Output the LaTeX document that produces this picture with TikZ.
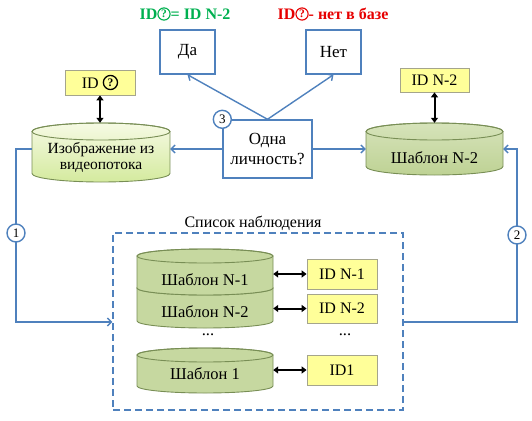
\documentclass[tikz,border=0pt]{standalone}
\usepackage{fontspec}
\setmainfont{Liberation Serif}
\usetikzlibrary{arrows.meta}
\definecolor{lblue}{RGB}{79,129,189}
\definecolor{cborder}{RGB}{120,142,85}
\definecolor{gtop}{RGB}{214,227,186}
\definecolor{gbot}{RGB}{190,210,148}
\definecolor{stk}{RGB}{198,216,160}
\definecolor{ltop}{RGB}{246,250,228}
\definecolor{lbot}{RGB}{212,234,158}
\definecolor{yfill}{RGB}{255,255,153}
\definecolor{yborder}{RGB}{165,165,140}
\definecolor{okgreen}{RGB}{0,176,80}
\definecolor{nored}{RGB}{230,0,0}
\newcommand\qmark[3]{\tikz[baseline=-0.75ex]\node[circle,draw=#1,line width=#2,fill=none,minimum width=0pt,minimum height=0pt,inner sep=#3,text=#1,font=\fontsize{11.5}{12}\selectfont\bfseries]{?};}
\newcommand\cylshape[6]{%
  \path[draw=cborder,line width=0.9pt,#6] (#1-#4,#2) -- (#1-#4,#3)
    arc[start angle=180,end angle=360,x radius=#4pt,y radius=#5pt] -- (#1+#4,#2)
    arc[start angle=0,end angle=180,x radius=#4pt,y radius=#5pt] -- cycle;
  \draw[cborder,line width=0.9pt] (#1,#2) ellipse[x radius=#4pt,y radius=#5pt];}
\begin{document}
\begin{tikzpicture}[x=1pt,y=-1pt,
  font=\fontsize{16.5}{16.5}\selectfont,
  bbox/.style={draw=lblue,line width=1.4pt,fill=white,align=center,inner sep=0pt,font=\fontsize{17}{20}\selectfont},
  ybox/.style={draw=yborder,fill=yfill,line width=0.8pt,minimum width=70pt,inner sep=0pt,font=\fontsize{16}{16}\selectfont},
  ext/.style={minimum width=#1,inner sep=0pt},
  conn/.style={draw=lblue,line width=1.4pt,-{Straight Barb[length=4pt,width=8pt]}},
  dbl/.style={line width=2pt,{Triangle[length=5pt,width=7pt]}-{Triangle[length=5pt,width=7pt]}},
  num/.style={circle,draw=lblue,line width=1.4pt,fill=white,minimum size=18pt,inner sep=0pt,font=\fontsize{13}{13}\selectfont},
]
\useasboundingbox (0,0) rectangle (532,420);

% top labels
\node[text=okgreen,font=\fontsize{16}{16}\selectfont\bfseries] (lbl1) at (185,14) {ID\qmark{okgreen}{1.1pt}{0.9pt}= ID N-2};
\node[text=nored,font=\fontsize{16}{16}\selectfont\bfseries] (lbl2) at (333,14) {ID\qmark{nored}{1.1pt}{0.9pt}- нет в базе};

% decision boxes
\node[bbox,minimum width=55pt,minimum height=44pt] (da) at (187.5,52) {Да};
\node[bbox,minimum width=55pt,minimum height=44pt] (net) at (333.5,52) {Нет};
\node[bbox,minimum width=89pt,minimum height=58pt] (q) at (267.5,149) {Одна\\личность?};

% cylinders
\cylshape{101}{131.5}{173.5}{69}{8.5}{top color=ltop,bottom color=lbot}
\node[ext=138pt,minimum height=59pt] (imgext) at (101,152.5) {};
\node[align=center,font=\fontsize{15.5}{15.5}\selectfont] (imgtxt) at (101,157.5) {Изображение из\\видеопотока};

\cylshape{434.5}{131.5}{166.5}{68.5}{8.5}{top color=gtop,bottom color=gbot}
\node[ext=137pt,minimum height=52pt] (tmplext) at (434.5,149) {};
\node (tmpltxt) at (434.5,157.5) {Шаблон N-2};

% yellow ids top
\node[ybox,minimum height=25pt] (idq) at (100,82.5) {ID \qmark{black}{1.3pt}{1.6pt}};
\node[ybox,minimum width=69pt,minimum height=24pt] (idr) at (434.5,80) {ID N-2};
\draw[dbl] (idq.south) -- (idq.south |- imgext.north);
\draw[dbl] (idr.south) -- (idr.south |- tmplext.north);

% connectors from decision
\draw[conn] (q.north) -- (da.south);
\draw[conn] (q.north) -- (net.south);
\draw[conn] (q.west) -- (imgext.east |- q.west);
\draw[conn] (q.east) -- (tmplext.west |- q.east);
\node[num] (n3) at (q.north west) {3};

% watch list
\node[draw=lblue,line width=1.4pt,dash pattern=on 7pt off 4pt,minimum width=290pt,minimum height=177pt,inner sep=0pt] (watch) at (258,321.5) {};
\node[font=\fontsize{16}{16}\selectfont] (wlabel) at (253,223) {Список наблюдения};

\cylshape{205}{288}{321}{68}{7}{fill=stk}
\cylshape{205}{256}{288}{68}{7}{fill=stk}
\cylshape{205}{355}{386}{68}{7}{fill=stk}
\node[ext=136pt] (s1) at (205,280) {Шаблон N-1};
\node[ext=136pt] (s2) at (205,312) {Шаблон N-2};
\node[ext=136pt] (s0) at (205,374) {Шаблон 1};
\node (dots1) at (208,335) {...};
\node (dots2) at (345,335) {...};

\node[ybox,minimum height=30pt] (id1) at (342,274) {ID N-1};
\node[ybox,minimum height=29pt] (id2) at (342,308.5) {ID N-2};
\node[ybox,minimum height=30pt] (id0) at (342,370) {ID1};
\draw[dbl] (id1.west -| s1.east) -- (id1.west);
\draw[dbl] (id2.west -| s2.east) -- (id2.west);
\draw[dbl] (id0.west -| s0.east) -- (id0.west);

% loops
\coordinate (lc) at (16,322);
\coordinate (rc) at (517,322);
\draw[conn] (imgext.west |- q.west) -| (lc) -- (watch.west |- lc);
\draw[conn] (watch.east |- rc) -- (rc) |- (tmplext.east |- q.east);
\node[num] (n1) at (16,233) {1};
\node[num] (n2) at (517,235) {2};
\end{tikzpicture}
\end{document}
